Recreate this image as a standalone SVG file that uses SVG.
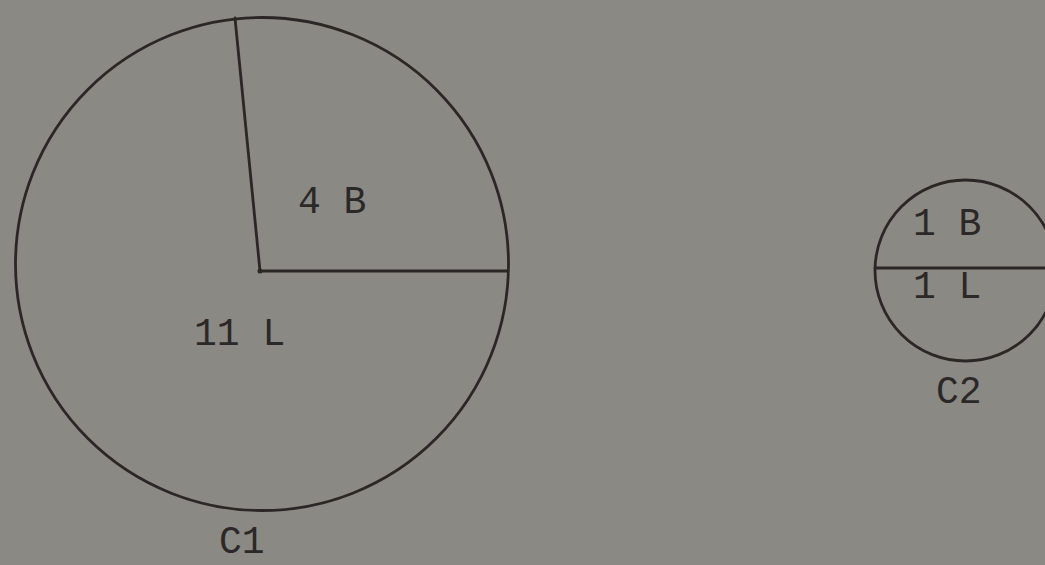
<svg xmlns="http://www.w3.org/2000/svg" width="1045" height="565" viewBox="0 0 1045 565">
<style>
.ln{fill:none;stroke:#2b2727;stroke-width:2.8;stroke-linecap:round}
.t{font-family:"Liberation Mono","DejaVu Sans Mono",monospace;font-size:38px;fill:#2b2828}
</style>
<rect width="1045" height="565" fill="#8b8983"/>
<g id="C1">
<circle class="ln" cx="262" cy="264" r="246.5"/>
<text class="t" x="298" y="213">4 B</text>
<text class="t" x="194" y="345">11 L</text>
<text class="t" x="219" y="553">C1</text>
</g>
<g id="C2">
<circle class="ln" cx="965.5" cy="270.5" r="90.5"/>
<text class="t" x="913" y="235">1 B</text>
<text class="t" x="913" y="298">1 L</text>
<text class="t" x="936" y="403">C2</text>
</g>
<g id="connectors">
<polyline class="ln" points="235,18 260,271 508,271"/>
<line class="ln" x1="875" y1="268" x2="1045" y2="268"/>
<circle cx="260" cy="271" r="2.5" fill="#2b2727"/>
</g>
</svg>
